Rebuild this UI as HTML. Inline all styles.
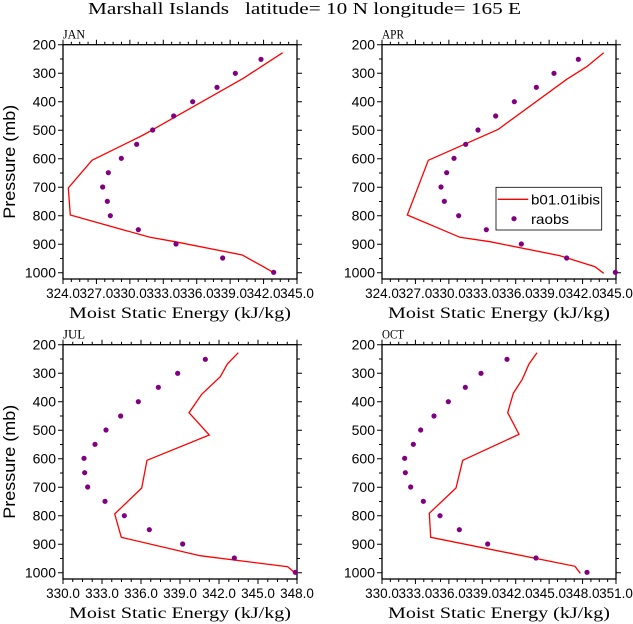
<!DOCTYPE html>
<html><head><meta charset="utf-8"><style>
html,body{margin:0;padding:0;background:#fff;}
svg{display:block;}
</style></head><body>
<svg id="s" width="633" height="624" xmlns="http://www.w3.org/2000/svg" font-family="Liberation Sans, sans-serif">
<text x="88" y="14" font-family="Liberation Serif, serif" font-size="17" fill="#000" xml:space="preserve" textLength="433" lengthAdjust="spacingAndGlyphs">Marshall Islands   latitude= 10 N longitude= 165 E</text>
</svg>
<script>
var s=document.getElementById('s'),NS='http://www.w3.org/2000/svg';
function el(t,a,txt){var e=document.createElementNS(NS,t);for(var k in a)e.setAttribute(k,a[k]);if(txt)e.textContent=txt;s.appendChild(e);return e;}
var W=234,H=234.3;
var panels=[
 {bx:63,by:44.7,ox:0,oy:0,name:'JAN',x0:324,x1:345,lab:true,
  line:[[848,158],[790,196],[730,235],[430,405],[276,481],[205,564],[211,645],[450,712],[525,725],[727,765],[790,800],[821,818]],
  dots:[[783,178],[706,220],[651,262],[578,305],[521,348],[458,390],[410,433],[364,475],[325,518],[308,561],[322,604],[331,647],[415,689],[528,732],[668,774],[821,817]]},
 {bx:382,by:44.7,ox:320,oy:0,name:'APR',x0:324,x1:345,lab:false,
  line:[[851,158],[800,200],[740,238],[535,388],[325,481],[262,645],[420,712],[510,725],[720,767],[825,800],[851,820]],
  dots:[[775,178],[702,220],[649,262],[583,305],[527,348],[474,390],[437,433],[402,475],[380,518],[363,561],[373,604],[416,647],[499,689],[604,732],[740,774],[886,817]]},
 {bx:63,by:344.7,ox:0,oy:300,name:'JUL',x0:330,x1:348,lab:true,
  line:[[715,158],[682,192],[661,230],[605,283],[567,338],[628,405],[441,481],[425,564],[344,642],[364,712],[600,767],[863,800],[886,820]],
  dots:[[616,178],[533,220],[475,262],[415,305],[362,348],[318,390],[285,433],[252,475],[254,518],[263,561],[315,604],[373,647],[448,689],[548,732],[703,774],[886,817]]},
 {bx:382,by:344.7,ox:320,oy:300,name:'OCT',x0:330,x1:351,lab:false,
  line:[[651,158],[627,192],[607,238],[580,280],[563,338],[597,403],[428,481],[408,564],[328,640],[332,712],[765,799],[781,820]],
  dots:[[561,178],[483,220],[436,262],[385,305],[342,348],[302,390],[280,433],[254,475],[256,518],[272,561],[310,604],[360,647],[418,689],[503,732],[648,774],[801,817]]}
];
panels.forEach(function(p){
 var bx=p.bx,by=p.by;
 var d='';
 for(var v=200;v<=1000;v+=50){var y=by+(v-200)*0.285,L=(v%100==0)?5:3;
  d+='M'+bx+' '+y+'h-'+L+'M'+(bx+W)+' '+y+'h'+L;
  if(v%100==0) el('text',{x:bx-7,y:y+5,'font-size':14,'text-anchor':'end'},String(v));}
 var n=(p.x1-p.x0)/3;
 for(var i=0;i<=n*4;i++){var x=bx+W*i/(n*4),L=(i%4==0)?5:3;
  d+='M'+x+' '+(by+H)+'v'+L+'M'+x+' '+by+'v-'+L;
  if(i%4==0) el('text',{x:x,y:by+H+19,'font-size':13.5,'text-anchor':'middle'},(p.x0+3*i/4).toFixed(1));}
 el('path',{d:d,stroke:'#000','stroke-width':1,fill:'none'});
 el('rect',{x:bx,y:by,width:W,height:H,fill:'none',stroke:'#000','stroke-width':1.3});
 el('text',{x:bx,y:by-6,'font-size':13,'font-family':'Liberation Serif, serif',textLength:22,lengthAdjust:'spacingAndGlyphs'},p.name);
 el('text',{x:bx+6,y:by+H+39,'font-size':16,'font-family':'Liberation Serif, serif',textLength:222,lengthAdjust:'spacingAndGlyphs'},'Moist Static Energy (kJ/kg)');
 if(p.lab) el('text',{x:0,y:0,'font-size':17,'text-anchor':'middle',textLength:114,lengthAdjust:'spacingAndGlyphs',transform:'translate(15,'+(by+117)+') rotate(-90)'},'Pressure (mb)');
 var pts=p.line.map(function(q){return (p.ox+q[0]/3).toFixed(1)+','+(p.oy+q[1]/3).toFixed(1);}).join(' ');
 el('polyline',{points:pts,fill:'none',stroke:'#ff0000','stroke-width':1.3});
 p.dots.forEach(function(q){el('circle',{cx:p.ox+q[0]/3,cy:p.oy+q[1]/3,r:2.6,fill:'#800080'});});
});
el('rect',{x:496,y:187.3,width:105.7,height:42.7,fill:'#fff',stroke:'#000','stroke-width':0.8});
el('line',{x1:497.7,y1:199.3,x2:528.3,y2:199.3,stroke:'#ff0000','stroke-width':1.3});
el('text',{x:531,y:204.5,'font-size':14,textLength:69,lengthAdjust:'spacingAndGlyphs'},'b01.01ibis');
el('circle',{cx:514,cy:218.7,r:2.6,fill:'#800080'});
el('text',{x:531,y:224,'font-size':14,textLength:38,lengthAdjust:'spacingAndGlyphs'},'raobs');
</script>
</body></html>
